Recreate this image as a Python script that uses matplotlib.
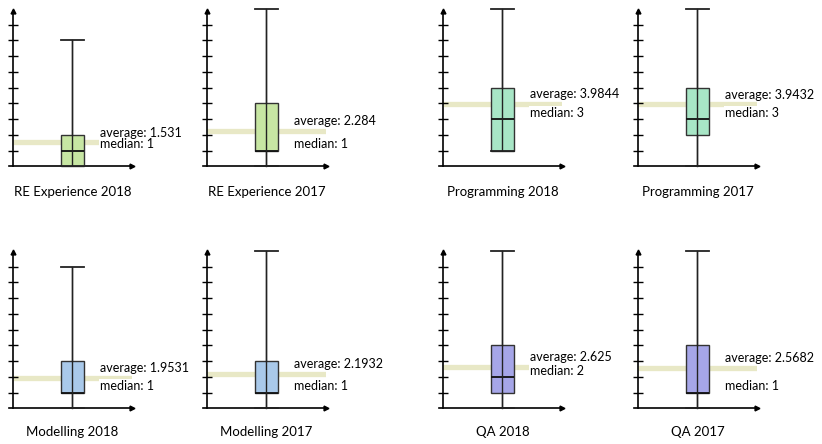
import matplotlib.pyplot as plt

plt.rcParams['font.family'] = ['Lato', 'DejaVu Sans']
plt.rcParams['font.size'] = 9.5

titles = ['RE Experience 2018', 'RE Experience 2017', 'Programming 2018', 'Programming 2017',
          'Modelling 2018', 'Modelling 2017', 'QA 2018', 'QA 2017']
whislo = [0, 0, 1, 0, 0, 0, 0, 0]
q1 = [0, 1, 1, 2, 1, 1, 1, 1]
medians = [1, 1, 3, 3, 1, 1, 2, 1]
q3 = [2, 4, 5, 5, 3, 3, 4, 4]
whishi = [8, 10, 10, 10, 9, 10, 10, 10]
means = [1.531, 2.284, 3.9844, 3.9432, 1.9531, 2.1932, 2.625, 2.5682]
box_colors = ['#c7e6a3', '#c7e6a3', '#a8e6c6', '#a8e6c6',
              '#a9c9ea', '#a9c9ea', '#a6a6e8', '#a6a6e8']

W, H = 822, 444
col_left = [8.5, 202.5, 438.5, 633.5]
row_axis_y = [166.5, 408.3]
title_drop = [29.5, 27.4]
unit = 15.75
ax_w = 123
ymax = 10.4

fig = plt.figure(figsize=(W / 100, H / 100), dpi=100)

for i in range(8):
    r, c = divmod(i, 4)
    ax = fig.add_axes([col_left[c] / W, (H - row_axis_y[r]) / H,
                       ax_w / W, ymax * unit / H])
    ax.set_xlim(0, 1)
    ax.set_ylim(0, ymax)
    ax.patch.set_alpha(0)

    # average line behind the box
    ax.plot([0.04, 1.0], [means[i], means[i]], color='#e8e8c6', lw=3.8,
            solid_capstyle='butt', zorder=1)

    stats = [dict(whislo=whislo[i], q1=q1[i], med=medians[i], q3=q3[i],
                  whishi=whishi[i], mean=means[i])]
    arts = ax.bxp(stats, positions=[0.52], widths=0.19, capwidths=0.19,
                  patch_artist=True, showfliers=False, showmeans=False,
                  boxprops=dict(facecolor=box_colors[i], edgecolor='#333333', lw=1),
                  medianprops=dict(color='#111111', lw=1.3),
                  whiskerprops=dict(color='#222222', lw=1),
                  capprops=dict(color='#222222', lw=1.3))
    for group in arts.values():
        for a in group:
            a.set_clip_on(False)
            a.set_zorder(3)
    for cap in arts['caps']:
        cap.set_zorder(4)
    # whisker line runs straight through the box
    ax.vlines(0.52, whislo[i], whishi[i], color='#222222', lw=1, zorder=3.5)

    ax.text(0.744, medians[i] + 0.4, f'median: {medians[i]}', va='center', ha='left',
            fontsize=9, bbox=dict(fc='white', ec='none', pad=0.8), zorder=4)
    ax.text(0.744, means[i] + 0.62, f'average: {means[i]:g}', va='center', ha='left',
            fontsize=9, zorder=5)

    # axes with arrows
    for s in ['top', 'right']:
        ax.spines[s].set_visible(False)
    ax.spines['left'].set_position(('data', 0.04))
    ax.spines['left'].set_bounds(0, 9.85)
    ax.spines['left'].set_linewidth(1.2)
    ax.spines['bottom'].set_linewidth(1.2)
    ax.plot(0.04, 9.9, marker='^', color='k', ms=3.5, clip_on=False)
    ax.plot(1.0, 0, marker='>', color='k', ms=3.5, clip_on=False)

    ax.set_yticks(range(1, 10))
    ax.set_xticks([])
    ax.tick_params(axis='y', direction='inout', length=7.2, width=1, labelleft=False)

    ax.annotate(titles[i], xy=(0.52, 0), xycoords='axes fraction',
                xytext=(0, -title_drop[r] * 0.72), textcoords='offset points',
                ha='center', va='baseline')

fig.savefig('out.png', dpi=100)
